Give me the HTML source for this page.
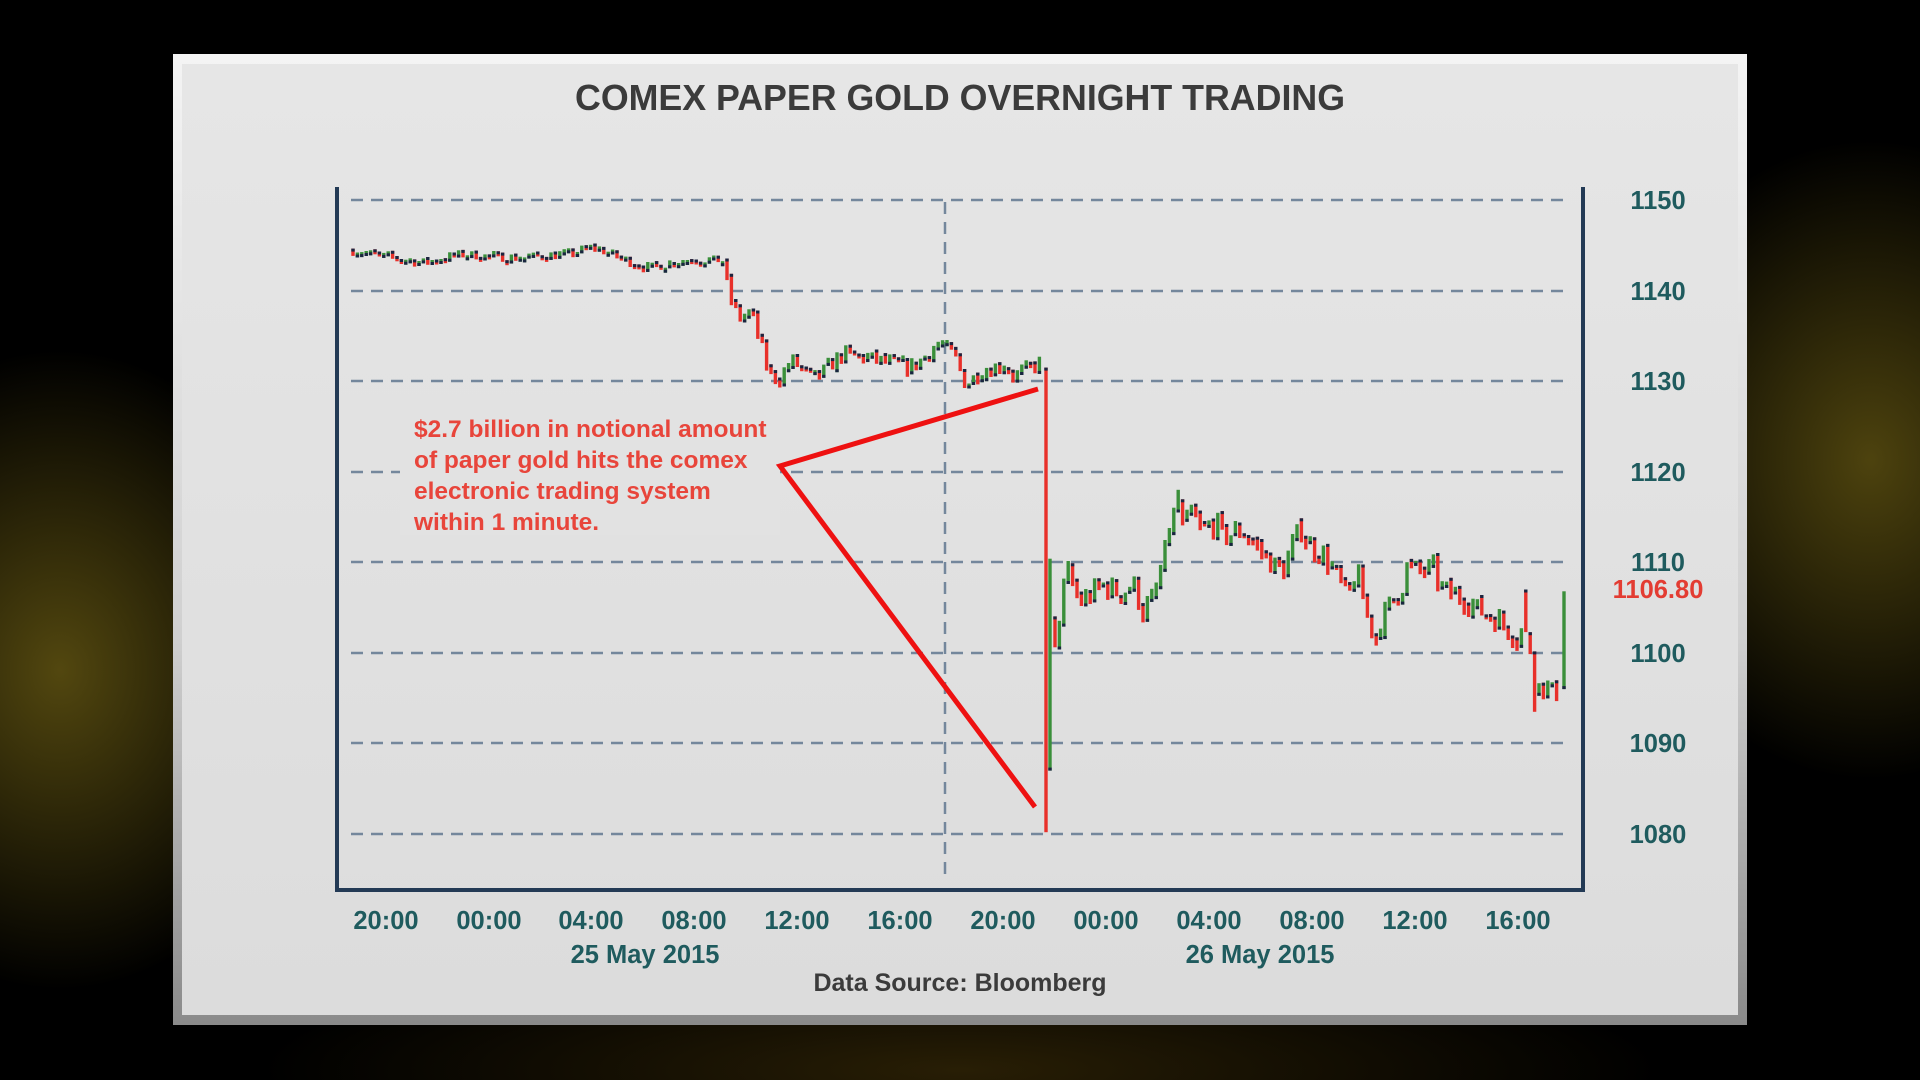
<!DOCTYPE html>
<html><head><meta charset="utf-8"><style>
html,body{margin:0;padding:0;width:1920px;height:1080px;overflow:hidden;background:#000}
#bg{position:absolute;left:0;top:0;width:1920px;height:1080px;
background:radial-gradient(ellipse 260px 320px at 60px 670px,rgba(110,95,20,.75),rgba(0,0,0,0) 100%),
radial-gradient(ellipse 260px 320px at 1870px 460px,rgba(110,95,20,.7),rgba(0,0,0,0) 100%),
radial-gradient(ellipse 700px 120px at 960px 1070px,rgba(80,60,10,.5),rgba(0,0,0,0) 100%),#000}
#frame{position:absolute;left:173px;top:54px;width:1574px;height:971px;background:linear-gradient(#f4f4f4,#d0d0d0 60%,#8a8a8a)}
#panel{position:absolute;left:182px;top:64px;width:1556px;height:951px;background:linear-gradient(#e6e6e6,#dcdcdc)}
svg{position:absolute;left:0;top:0}
text{font-family:"Liberation Sans",Arial,sans-serif;font-weight:bold}
</style></head><body>
<div id="bg"></div><div id="frame"></div><div id="panel"></div>
<svg id="s" width="1920" height="1080" xmlns="http://www.w3.org/2000/svg">
<text x="960" y="110" text-anchor="middle" font-size="36" fill="#3b3b3b" textLength="770" lengthAdjust="spacingAndGlyphs">COMEX PAPER GOLD OVERNIGHT TRADING</text>
<g stroke="#74879c" stroke-width="2.5" stroke-dasharray="12 8">
<line x1="351" y1="200" x2="1571" y2="200"/><line x1="351" y1="291" x2="1571" y2="291"/>
<line x1="351" y1="381" x2="1571" y2="381"/><line x1="351" y1="472" x2="1571" y2="472"/>
<line x1="351" y1="562" x2="1571" y2="562"/><line x1="351" y1="653" x2="1571" y2="653"/>
<line x1="351" y1="743" x2="1571" y2="743"/><line x1="351" y1="834" x2="1571" y2="834"/>
<line x1="945" y1="202" x2="945" y2="876"/>
</g>
<rect x="400" y="410" width="380" height="125" fill="#e2e2e2"/>
<g id="bars"></g>
<g stroke="#233a55" stroke-width="4" fill="none"><polyline points="337,187 337,890 1583,890 1583,187"/></g>
<g font-size="25.5" fill="#1f5b5e" text-anchor="middle">
<text x="1658" y="209">1150</text><text x="1658" y="300">1140</text><text x="1658" y="390">1130</text>
<text x="1658" y="481">1120</text><text x="1658" y="571">1110</text><text x="1658" y="662">1100</text>
<text x="1658" y="752">1090</text><text x="1658" y="843">1080</text>
<text x="386" y="929">20:00</text><text x="489" y="929">00:00</text><text x="591" y="929">04:00</text>
<text x="694" y="929">08:00</text><text x="797" y="929">12:00</text><text x="900" y="929">16:00</text>
<text x="1003" y="929">20:00</text><text x="1106" y="929">00:00</text><text x="1209" y="929">04:00</text>
<text x="1312" y="929">08:00</text><text x="1415" y="929">12:00</text><text x="1518" y="929">16:00</text>
<text x="645" y="963">25 May 2015</text><text x="1260" y="963">26 May 2015</text>
</g>
<text x="1658" y="598" font-size="25.5" fill="#e33c32" text-anchor="middle">1106.80</text>
<text x="960" y="991" font-size="25" fill="#3b3b3b" text-anchor="middle">Data Source: Bloomberg</text>
<g font-size="24.5" fill="#e8453b">
<text x="414" y="437">$2.7 billion in notional amount</text>
<text x="414" y="468">of paper gold hits the comex</text>
<text x="414" y="499">electronic trading system</text>
<text x="414" y="530">within 1 minute.</text>
</g>
<polyline points="1038,389 780,466 1035,807" fill="none" stroke="#ee1111" stroke-width="5"/>
</svg>
<script>
var K=[[353,1144.4],[422,1143.1],[463,1144],[514,1143.6],[568,1144],[593,1144.8],[647,1142.5],[693,1143.5],[723,1143.3],[729,1139.5],[739,1137],[752,1137.5],[762,1133.5],[769,1130.8],[780,1130.3],[792,1132.3],[810,1130.5],[818,1130.5],[843,1133],[871,1132.5],[897,1131.8],[912,1131.5],[940,1134.2],[956,1132.5],[966,1129.5],[979,1131],[1004,1131.8],[1014,1130.5],[1040,1132],[1044,1130.5],
[1055,1100],[1059,1104],[1067,1109],[1080,1105.5],[1103,1107.5],[1120,1106.5],[1134,1107.5],[1143,1104.5],[1154,1106],[1161,1109],[1169,1113.5],[1178,1116.5],[1183,1113.5],[1191,1115.5],[1201,1113.5],[1217,1114.3],[1223,1112.8],[1241,1113.5],[1259,1111.5],[1270,1110],[1283,1109],[1292,1111.5],[1300,1114],[1308,1112],[1326,1110.5],[1339,1108],[1348,1106],[1357,1109],[1366,1104.5],[1375,1101.8],[1384,1104],[1393,1106],[1402,1107],[1406,1109.5],[1420,1109],[1433,1109.3],[1442,1107],[1464,1106],[1482,1104.5],[1500,1103.5],[1518,1101.5],[1525,1103.5],[1531,1100],[1536,1096],[1542,1096.5],[1554,1095.5],[1560,1096]];
function P(x){for(var i=1;i<K.length;i++){if(x<=K[i][0]){var a=K[i-1],b=K[i];return a[1]+(b[1]-a[1])*(x-a[0])/(b[0]-a[0]);}}return K[K.length-1][1];}
function Y(p){return 834-(p-1080)*9.057;}
var seed=7;function r(){seed=(seed*16807)%2147483647;return seed/2147483647;}
var h='',prev=P(353);
function bar(x,o,c,hi,lo){var col=c>=o?'#3a8f3a':'#e8302a';var y1=Y(hi),y2=Y(lo);if(y2-y1<5)y2=y1+5;
h+='<rect x="'+(x-1.7).toFixed(1)+'" y="'+y1.toFixed(1)+'" width="3.4" height="'+(y2-y1).toFixed(1)+'" fill="'+col+'"/>';
h+='<rect x="'+(x-1.7).toFixed(1)+'" y="'+(c>=o?y2-3:y1).toFixed(1)+'" width="3.4" height="3" fill="#1a2540"/>';}
for(var x=353;x<=1042;x+=4.4){var v=x<723?0.5:0.85;var c=P(x)+(r()-0.5)*v*2;var o=prev;var hi=Math.max(o,c)+r()*v*0.5,lo=Math.min(o,c)-r()*v*0.5;bar(x,o,c,hi,lo);prev=c;}
bar(1046,1131,1081,1131.5,1080.2);
bar(1050,1087,1110,1110.4,1087);
prev=1104;
for(var x=1055;x<=1560;x+=4.4){var v=1.2;var c=P(x)+(r()-0.5)*v*2;var o=prev;var hi=Math.max(o,c)+r()*v*0.6,lo=Math.min(o,c)-r()*v*0.6;
if(Math.abs(x-1375)<3)lo=1100.8;if(Math.abs(x-1536)<3)lo=1093.5;if(Math.abs(x-1178)<3)hi=1118;if(Math.abs(x-1525)<3){o=1107;c=1102;hi=1107;}
bar(x,o,c,hi,lo);prev=c;}
bar(1564,1096,1106.8,1106.8,1096);
document.getElementById('bars').innerHTML=h;
</script>
</body></html>
